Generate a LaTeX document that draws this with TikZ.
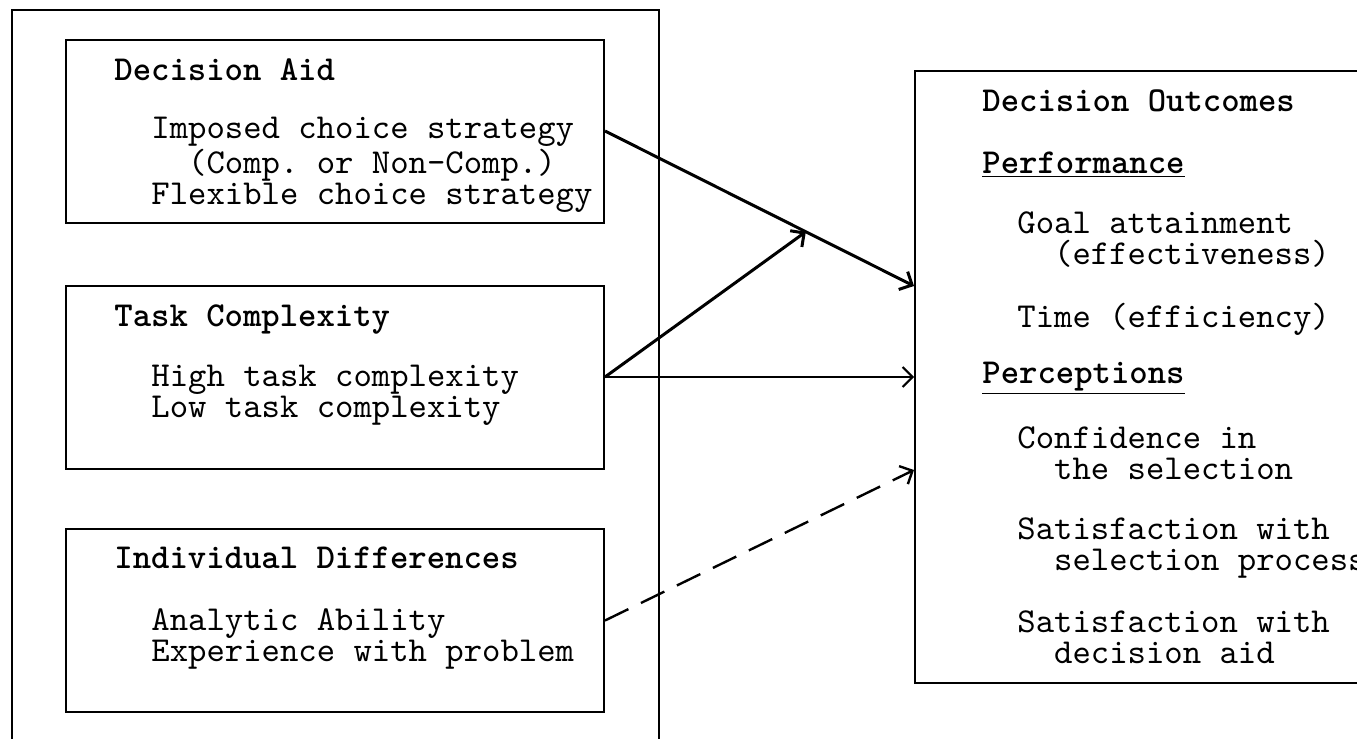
\documentclass[tikz,border=0pt]{standalone}
\usepackage{fontspec}
\setmonofont{lmmono10-regular.otf}[BoldFont=lmmonolt10-bold.otf]
\usetikzlibrary{arrows.meta,calc}
\begin{document}
\begin{tikzpicture}[
					x=0.5pt, y=-0.5pt,
					every node/.style={font=\ttfamily\fontsize{17.5}{15.5}\selectfont},
					frame/.style={draw, line width=1pt, inner sep=0pt},
					factor/.style={frame, minimum width=269pt, minimum height=91.5pt},
					txt/.style={anchor=base west, inner sep=0pt, align=left},
					head/.style={txt, font=\ttfamily\bfseries\fontsize{17.5}{15.5}\selectfont},
					link/.style={line width=1.5pt, -{Straight Barb[length=5pt,width=10pt]}}
				]
				\useasboundingbox (0,0) rectangle (1357,739);
				\clip (0,0) rectangle (1357,739);
				% outer frame round the three factors
				\node[frame, minimum width=323.5pt, minimum height=380pt, anchor=north west] (inputs) at (11,9) {};
				\node[factor] (aid) at (335,131) {};
				\node[factor] (task) at (335,377) {};
				\node[factor] (ind) at (335,620.5) {};
				\node[frame, minimum width=240pt, minimum height=306pt, anchor=west] (outc) at (914,377) {};
				% texts (base of a block = its last line)
				\node[head] (aidh) at (114,80) {Decision Aid};
				\node[txt] (aidt) at (151,204) {Imposed choice strategy\\~~(Comp. or Non-Comp.)\\Flexible choice strategy};
				\node[head] (taskh) at (114,326) {Task Complexity};
				\node[txt] (taskt) at (151,417) {High task complexity\\Low task complexity};
				\node[head] (indh) at (114,568) {Individual Differences};
				\node[txt] (indt) at (151,661) {Analytic Ability\\Experience with problem};
				\node[head] (outh) at (982,112) {Decision Outcomes};
				\node[head] (perf) at (982,173) {\underline{Performance}};
				\node[txt] (goal) at (1017,264) {Goal attainment\\~~(effectiveness)};
				\node[txt] (time) at (1017,327) {Time (efficiency)};
				\node[head] (perc) at (982,383) {\underline{Perceptions}};
				\node[txt] (conf) at (1017,479) {Confidence in\\~~the selection};
				\node[txt] (satp) at (1017,570) {Satisfaction with\\~~selection process};
				\node[txt] (sata) at (1017,663) {Satisfaction with\\~~decision aid};
				% connectors
				\draw[link] (aid.east) -- coordinate[pos=0.65] (mid) ($(outc.west)+(0,-91)$);
				\draw[link] (task.east) -- (mid);
				\draw[link, line width=1pt] (task.east) -- (outc.west);
				\draw[link, line width=1.2pt, dash pattern=on 13pt off 7pt] (ind.east) -- ($(outc.west)+(0,93)$);
			\end{tikzpicture}
\end{document}
